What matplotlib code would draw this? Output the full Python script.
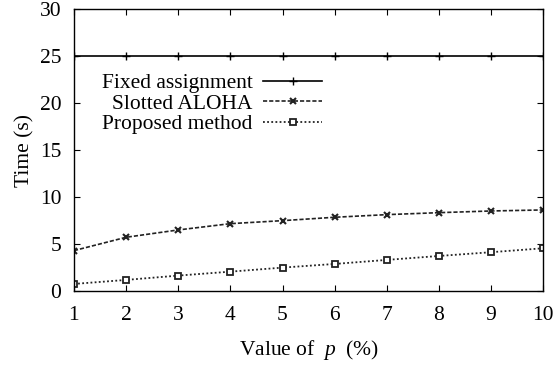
import matplotlib
matplotlib.use("Agg")
import matplotlib.pyplot as plt

p_values = [1, 2, 3, 4, 5, 6, 7, 8, 9, 10]
fixed_assignment = [25, 25, 25, 25, 25, 25, 25, 25, 25, 25]
slotted_aloha = [4.29, 5.71, 6.49, 7.16, 7.48, 7.84, 8.12, 8.33, 8.51, 8.62]
proposed_method = [0.74, 1.17, 1.63, 2.05, 2.48, 2.87, 3.30, 3.72, 4.12, 4.54]
y_ticks = [0, 5, 10, 15, 20, 25, 30]

plt.rcParams['font.family'] = ['Liberation Serif', 'DejaVu Serif']
plt.rcParams['mathtext.fontset'] = 'custom'
plt.rcParams['mathtext.it'] = 'Liberation Serif:italic'
plt.rcParams['mathtext.rm'] = 'Liberation Serif'

FS = 15.5

fig = plt.figure(figsize=(5.56, 3.65), dpi=100)
ax = fig.add_axes([0.133, 0.203, 0.844, 0.772])

ax.plot(p_values, fixed_assignment, color='black', linestyle='-', linewidth=1.2,
        marker='+', markersize=6, markeredgewidth=1.0, label='Fixed assignment')
ax.plot(p_values, slotted_aloha, color='#222222', linestyle=(0, (2.5, 1.2)), linewidth=1.2,
        marker='x', markersize=5, markeredgewidth=1.5, label='Slotted ALOHA')
ax.plot(p_values, proposed_method, color='#222222', linestyle=(0, (1, 1.3)), linewidth=1.3,
        marker='s', markersize=5, markerfacecolor='white', markeredgewidth=1.3,
        label='Proposed method')

ax.set_xlim(1, 10)
ax.set_ylim(0, 30)
ax.set_xticks(p_values)
ax.set_yticks(y_ticks)
ax.tick_params(direction='in', top=True, right=True, labelsize=FS, length=4)
ax.tick_params(axis='x', pad=11)
ax.tick_params(axis='y', pad=9)
for s in ax.spines.values():
    s.set_linewidth(1.0)

ax.set_xlabel(r'Value of $\ p\ $ (%)', fontsize=FS, labelpad=9)
ax.set_ylabel('Time (s)', fontsize=FS, labelpad=4)

leg = ax.legend(loc='upper right', bbox_to_anchor=(0.529, 0.772), frameon=False,
                markerfirst=False, fontsize=FS, handlelength=2.74,
                labelspacing=0.02, handletextpad=0.5, borderaxespad=0, borderpad=0)

fig.savefig('out.png', dpi=100)
